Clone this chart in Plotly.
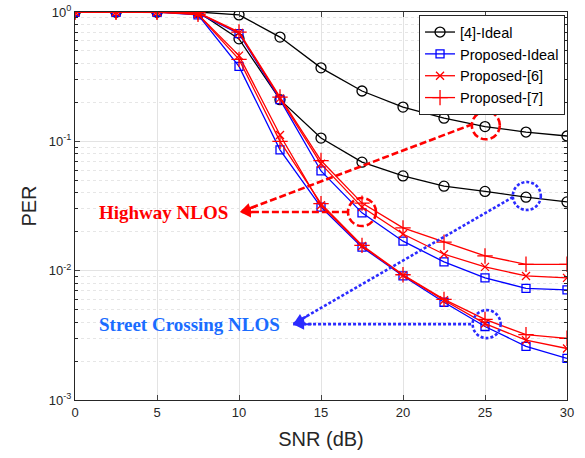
import math
import plotly.graph_objects as go

snr = [0, 2.5, 5, 7.5, 10, 12.5, 15, 17.5, 20, 22.5, 25, 27.5, 30]

# Highway NLOS
hw_ref4 = [1, 1, 1, 1, 0.95, 0.64, 0.37, 0.245, 0.184, 0.151, 0.13, 0.118, 0.11]
hw_prop_ideal = [1, 1, 1, 0.975, 0.68, 0.21, 0.059, 0.028, 0.0169, 0.0117, 0.0088, 0.0073, 0.0071]
hw_prop6 = [1, 1, 1, 0.985, 0.69, 0.215, 0.067, 0.031, 0.0192, 0.0134, 0.0107, 0.0091, 0.0088]
hw_prop7 = [1, 1, 1, 0.99, 0.70, 0.22, 0.071, 0.0333, 0.0214, 0.0166, 0.013, 0.0112, 0.0112]

# Street Crossing NLOS
sc_ref4 = [1, 1, 1, 1, 0.62, 0.21, 0.106, 0.069, 0.054, 0.045, 0.041, 0.037, 0.034]
sc_prop_ideal = [1, 1, 1, 0.95, 0.38, 0.086, 0.031, 0.0152, 0.0091, 0.0057, 0.0037, 0.0026, 0.0021]
sc_prop6 = [1, 1, 1, 0.96, 0.46, 0.112, 0.032, 0.0155, 0.0092, 0.0059, 0.0039, 0.0029, 0.0025]
sc_prop7 = [1, 1, 1, 0.96, 0.43, 0.10, 0.033, 0.0157, 0.0093, 0.006, 0.0042, 0.0032, 0.003]

x_ticks = [0, 5, 10, 15, 20, 25, 30]
y_ticks = [0.001, 0.01, 0.1, 1]
y_ticktext = ["10<sup>-3</sup>", "10<sup>-2</sup>", "10<sup>-1</sup>", "10<sup>0</sup>"]

AX = "#262626"
RED = "#ff0000"
BLUE = "#0000ff"
BLACK = "#000000"
DOTBLUE = "#2b2bff"
RED_DASH = "7px,3px"
BLUE_DOT = "3px,2px"

series = [
    ("[4]-Ideal", hw_ref4, sc_ref4, BLACK, "circle-open", 10),
    ("Proposed-Ideal", hw_prop_ideal, sc_prop_ideal, BLUE, "square-open", 8),
    ("Proposed-[6]", hw_prop6, sc_prop6, RED, "x-thin-open", 8),
    ("Proposed-[7]", hw_prop7, sc_prop7, RED, "cross-thin-open", 11),
]

fig = go.Figure()
for name, hw, sc, col, sym, sz in series:
    for i, ys in enumerate([hw, sc]):
        fig.add_trace(go.Scatter(
            x=snr, y=ys, name=name, legendgroup=name, showlegend=(i == 0),
            mode="lines+markers",
            line=dict(color=col, width=1.3),
            marker=dict(symbol=sym, size=sz, color=col,
                        line=dict(color=col, width=1.3)),
        ))

# connector lines (dashed / dotted)
hw_tip = (10.06, 0.0284)
sc_tip = (13.3, 0.00386)
connectors = [
    ((16.7, 0.0284), hw_tip, RED, RED_DASH),
    ((24.27, 0.136), hw_tip, RED, RED_DASH),
    ((24.15, 0.00386), sc_tip, DOTBLUE, BLUE_DOT),
    ((26.7, 0.037), sc_tip, DOTBLUE, BLUE_DOT),
]
for (x0, y0), (x1, y1), col, dash in connectors:
    fig.add_trace(go.Scatter(x=[x0, x1], y=[y0, y1], mode="lines",
                             line=dict(color=col, width=2.6, dash=dash),
                             showlegend=False, hoverinfo="skip"))

# arrowheads
heads = [
    (hw_tip, RED, 20, 0),
    (hw_tip, RED, 17, -6),
    (sc_tip, DOTBLUE, 20, 0),
    (sc_tip, DOTBLUE, 16, -9),
]
for (tx, ty), col, ax, ay in heads:
    fig.add_annotation(x=tx, y=math.log10(ty), xref="x", yref="y", text="",
                       showarrow=True, arrowhead=2, arrowsize=1.1, arrowwidth=2,
                       arrowcolor=col, ax=ax, ay=ay, standoff=0)

# highlight circles (radius ~14 px: x span 30 units over 492 px, y 3 decades over 388 px)
R_PX = 14
dx = R_PX * 30 / 492
fy = 10 ** (R_PX * 3 / 388)
circles = [
    (25.05, 0.133, RED, RED_DASH),
    (17.5, 0.0284, RED, RED_DASH),
    (27.55, 0.0378, DOTBLUE, BLUE_DOT),
    (25.1, 0.00386, DOTBLUE, BLUE_DOT),
]
for cx, cy, col, dash in circles:
    fig.add_shape(type="circle", xref="x", yref="y",
                  x0=cx - dx, x1=cx + dx, y0=cy / fy, y1=cy * fy,
                  line=dict(color=col, width=2.6, dash=dash))

# labels
fig.add_annotation(x=9.45, y=math.log10(0.0284), xref="x", yref="y",
                   text="<b>Highway NLOS</b>", showarrow=False, xanchor="right",
                   font=dict(family="Liberation Serif", size=19, color=RED))
fig.add_annotation(x=12.65, y=math.log10(0.00386), xref="x", yref="y",
                   text="<b>Street Crossing NLOS</b>", showarrow=False, xanchor="right",
                   font=dict(family="Liberation Serif", size=19, color="#1a6cff"))

minor_vals = [m * 10 ** e for e in (-3, -2, -1) for m in range(2, 10)]

fig.update_layout(
    width=585, height=458,
    margin=dict(l=75, r=18, t=12, b=58),
    paper_bgcolor="white", plot_bgcolor="white",
    font=dict(family="Liberation Sans, Arial", size=13, color=AX),
    legend=dict(x=0.996, y=0.992, xanchor="right", yanchor="top",
                bgcolor="white", bordercolor=AX, borderwidth=1,
                font=dict(size=14.5, color=BLACK), tracegroupgap=0),
    showlegend=True,
)
fig.update_xaxes(
    range=[0, 30], tickvals=x_ticks, ticks="inside", ticklen=5,
    showline=True, linecolor=AX, linewidth=1, mirror="ticks",
    showgrid=True, gridcolor="#e3e3e3", gridwidth=1, zeroline=False,
    automargin=False,
    title=dict(text="SNR (dB)", font=dict(size=20, color=AX), standoff=13),
    tickfont=dict(size=13, color=AX),
)
fig.update_yaxes(
    type="log", range=[-3, 0], tickvals=y_ticks, ticktext=y_ticktext,
    ticks="inside", ticklen=5,
    showline=True, linecolor=AX, linewidth=1, mirror="ticks",
    showgrid=True, gridcolor="#e3e3e3", gridwidth=1, zeroline=False,
    automargin=False,
    minor=dict(tickvals=minor_vals, showgrid=True, gridcolor="#e6e6e6",
               griddash="dot", ticks="inside", ticklen=3, tickcolor=AX),
    title=dict(text="PER", font=dict(size=20, color=AX), standoff=6),
    tickfont=dict(size=13, color=AX),
)

fig.write_html("out.html", config={"displayModeBar": False},
               post_script="document.body.style.margin='0px';document.body.style.overflow='hidden';")
